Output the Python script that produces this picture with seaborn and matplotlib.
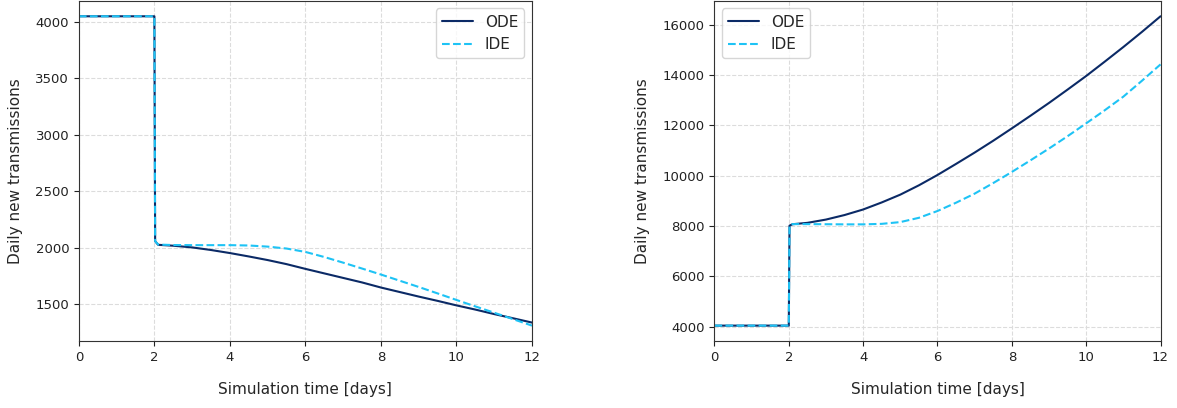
import numpy as np
import pandas as pd
import matplotlib
matplotlib.use("Agg")
import matplotlib.pyplot as plt
import seaborn as sns

# tiempos de simulacion
t_days = [0, 1, 2, 2.02, 2.1, 2.5, 3, 3.5, 4, 4.5, 5, 5.5, 6, 6.5, 7, 7.5,
          8, 8.5, 9, 9.5, 10, 10.5, 11, 11.5, 12]

# escenario 1: caida de transmisiones
ode_down = [4050, 4050, 4050, 2060, 2028, 2020, 2005, 1982, 1955, 1925, 1893,
            1857, 1815, 1775, 1735, 1695, 1650, 1610, 1570, 1532, 1492, 1455,
            1415, 1378, 1340]
ide_down = [4050, 4050, 4050, 2060, 2030, 2026, 2025, 2025, 2025, 2022, 2012,
            1995, 1965, 1920, 1870, 1818, 1765, 1710, 1655, 1598, 1540, 1483,
            1427, 1370, 1313]

# escenario 2: aumento de transmisiones
ode_up = [4050, 4050, 4050, 8020, 8075, 8130, 8260, 8440, 8660, 8940, 9250,
          9620, 10030, 10470, 10920, 11390, 11880, 12380, 12890, 13420, 13960,
          14530, 15110, 15710, 16330]
ide_up = [4050, 4050, 4050, 8020, 8080, 8080, 8075, 8070, 8070, 8090, 8160,
          8330, 8600, 8930, 9290, 9710, 10150, 10610, 11080, 11570, 12080,
          12600, 13140, 13770, 14420]

sns.set_style("ticks")
plt.rcParams['font.family'] = ['DejaVu Sans']

fig = plt.figure(figsize=(11.77, 4.08), dpi=100)
ax1 = fig.add_axes([0.067, 0.164, 0.385, 0.834])
ax2 = fig.add_axes([0.607, 0.164, 0.379, 0.834])

col_ode = "#0b2a66"
col_ide = "#1ec3f5"

for ax, ode, ide, loc in [(ax1, ode_down, ide_down, "upper right"),
                          (ax2, ode_up, ide_up, "upper left")]:
    df = pd.DataFrame({"t": t_days, "ODE": ode, "IDE": ide})
    sns.lineplot(data=df, x="t", y="ODE", ax=ax, color=col_ode, lw=1.5, label="ODE")
    sns.lineplot(data=df, x="t", y="IDE", ax=ax, color=col_ide, lw=1.5,
                 linestyle="--", label="IDE")
    ax.set_xlim(0, 12)
    ax.set_xticks([0, 2, 4, 6, 8, 10, 12])
    ax.grid(True, linestyle="--", color="#dcdcdc", linewidth=0.8)
    ax.set_xlabel("Simulation time [days]", fontsize=11, labelpad=13)
    ax.set_ylabel("Daily new transmissions", fontsize=11, labelpad=9)
    ax.tick_params(labelsize=9.5, colors="#222222")
    for s in ax.spines.values():
        s.set_color("#333333")
    ax.legend(loc=loc, fontsize=11)

fig.savefig("out.png", dpi=100)
